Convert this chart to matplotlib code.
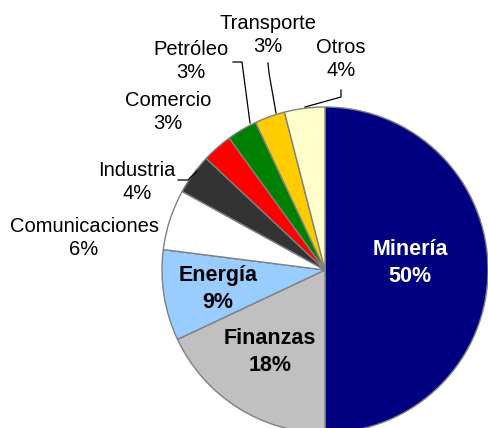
import matplotlib
matplotlib.use("Agg")
import matplotlib.pyplot as plt

plt.rcParams['font.family'] = ['Liberation Sans', 'DejaVu Sans']

sectores = ['Minería', 'Finanzas', 'Energía', 'Comunicaciones', 'Industria',
            'Comercio', 'Petróleo', 'Transporte', 'Otros']
porcentajes = [50, 18, 9, 6, 4, 3, 3, 3, 4]
colores = ['#000080', '#C0C0C0', '#99CCFF', '#FFFFFF', '#333333',
           '#FF0000', '#008000', '#FFCC00', '#FFFFCC']

# pixel layout of the reference: centre (326, 270), radius 163
W, H = 488, 428
cx, cy, r = 325, 270, 163


def px(x, y):
    return (x - cx) / r, (cy - y) / r


fig = plt.figure(figsize=(W / 100, H / 100), dpi=100)
ax = fig.add_axes([0, 0, 1, 1])
ax.pie(porcentajes, colors=colores, startangle=90, counterclock=False,
       wedgeprops=dict(edgecolor='#808080', linewidth=1))
ax.set_xlim(-cx / r, (W - cx) / r)
ax.set_ylim((cy - H) / r, cy / r)
ax.set_aspect('auto')
ax.axis('off')

# labels inside (bold) and outside (normal), positions in reference pixels
dentro = {'Minería': (410, 263, 'white'), 'Finanzas': (270, 352, 'black'),
          'Energía': (218, 289, 'black')}
fuera = {'Comunicaciones': (84, 238), 'Industria': (137, 182),
         'Comercio': (168, 112), 'Petróleo': (191, 61),
         'Transporte': (268, 35), 'Otros': (341, 59)}

for s, p in zip(sectores, porcentajes):
    texto = f'{s}\n{p}%'
    if s in dentro:
        x, y, c = dentro[s]
        ax.text(*px(x, y), texto, ha='center', va='center', color=c,
                fontsize=15.5, fontweight='bold', linespacing=1.4)
    else:
        x, y = fuera[s]
        ax.text(*px(x, y), texto, ha='center', va='center', color='black',
                fontsize=14.5, linespacing=1.3)

# leader lines
lineas = [
    [(178, 180), (188, 180), (197, 171)],
    [(233, 62), (242, 62), (250, 123)],
    [(268, 63), (269, 73), (276, 113)],
    [(341, 90), (341, 97), (305, 107)],
]
for ln in lineas:
    xs, ys = zip(*[px(x, y) for x, y in ln])
    ax.plot(xs, ys, color='black', linewidth=0.9)

fig.savefig('out.png', dpi=100)
